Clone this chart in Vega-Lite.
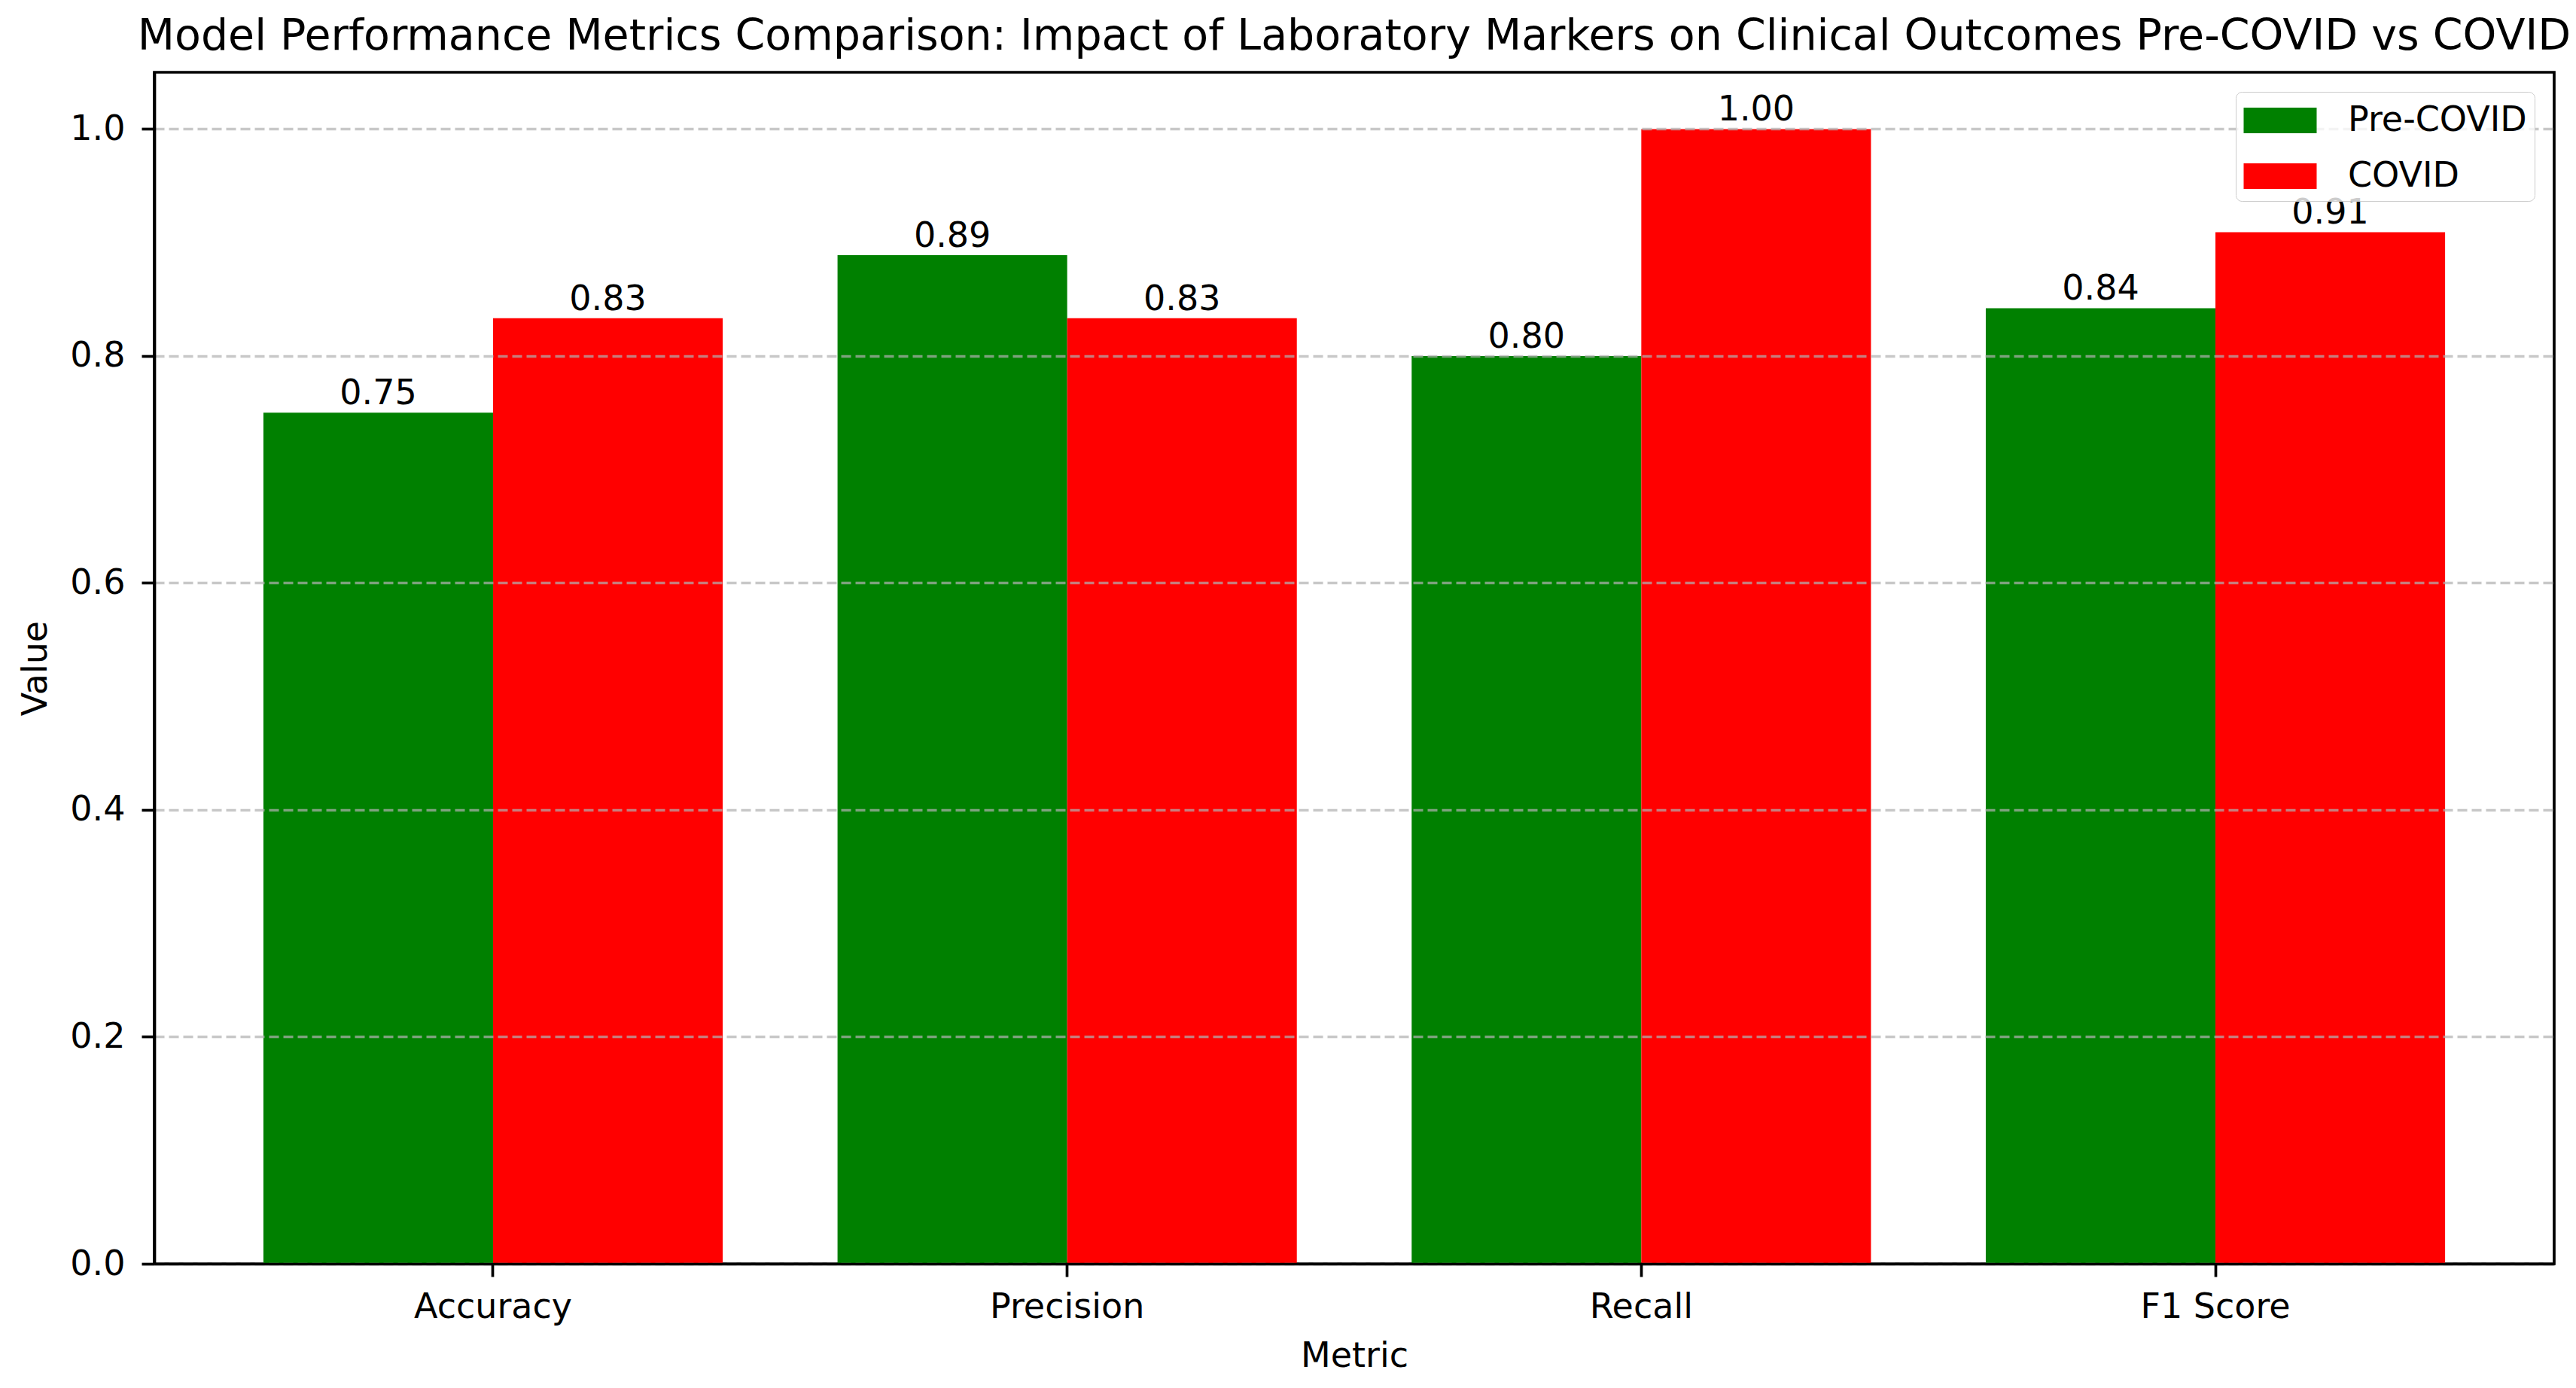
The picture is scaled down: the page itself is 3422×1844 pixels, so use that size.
{
  "$schema": "https://vega.github.io/schema/vega-lite/v6.json",
  "width": 3188,
  "height": 1583,
  "autosize": {"type": "none"},
  "padding": {"left": 205, "top": 96, "right": 29, "bottom": 165},
  "background": "white",
  "title": {
    "text": "Model Performance Metrics Comparison: Impact of Laboratory Markers on Clinical Outcomes Pre-COVID vs COVID",
    "fontSize": 57,
    "font": "DejaVu Sans",
    "fontWeight": "normal",
    "color": "black",
    "anchor": "middle",
    "baseline": "alphabetic",
    "offset": 31,
    "dy": 58
  },
  "config": {
    "view": {"stroke": "black", "strokeWidth": 3.7},
    "font": "DejaVu Sans"
  },
  "data": {
    "values": [
      {"Metric": "Accuracy", "Period": "Pre-COVID", "Value": 0.75},
      {"Metric": "Accuracy", "Period": "COVID", "Value": 0.8333},
      {"Metric": "Precision", "Period": "Pre-COVID", "Value": 0.8889},
      {"Metric": "Precision", "Period": "COVID", "Value": 0.8333},
      {"Metric": "Recall", "Period": "Pre-COVID", "Value": 0.8},
      {"Metric": "Recall", "Period": "COVID", "Value": 1.0},
      {"Metric": "F1 Score", "Period": "Pre-COVID", "Value": 0.8421},
      {"Metric": "F1 Score", "Period": "COVID", "Value": 0.9091}
    ]
  },
  "encoding": {
    "x": {
      "field": "Metric",
      "type": "nominal",
      "sort": ["Accuracy", "Precision", "Recall", "F1 Score"],
      "scale": {"paddingInner": 0.2, "paddingOuter": 0.19},
      "axis": {
        "title": "Metric",
        "titleFontSize": 46,
        "titleFontWeight": "normal",
        "titleColor": "black",
        "titlePadding": 20,
        "labelFontSize": 46,
        "labelColor": "black",
        "labelAngle": 0,
        "labelPadding": 18,
        "labelLimit": 1000,
        "tickSize": 17,
        "tickWidth": 3.7,
        "tickColor": "black",
        "domainColor": "black",
        "domainWidth": 3.7,
        "grid": false,
        "zindex": 2
      }
    },
    "xOffset": {
      "field": "Period",
      "type": "nominal",
      "sort": ["Pre-COVID", "COVID"],
      "scale": {"paddingInner": 0, "paddingOuter": 0}
    },
    "y": {
      "field": "Value",
      "type": "quantitative",
      "scale": {"domain": [0, 1.05], "nice": false, "zero": true},
      "axis": {
        "title": "Value",
        "titleFontSize": 46,
        "titleFontWeight": "normal",
        "titleColor": "black",
        "titlePadding": 21,
        "labelFontSize": 46,
        "labelColor": "black",
        "labelPadding": 22,
        "labelLimit": 1000,
        "tickSize": 17,
        "tickWidth": 3.7,
        "tickColor": "black",
        "domainColor": "black",
        "domainWidth": 3.7,
        "values": [0, 0.2, 0.4, 0.6, 0.8, 1.0],
        "format": ".1f",
        "grid": true,
        "gridColor": "#b0b0b0",
        "gridOpacity": 0.7,
        "gridWidth": 3.7,
        "gridDash": [13, 6],
        "zindex": 1
      }
    }
  },
  "layer": [
    {
      "mark": {"type": "bar"},
      "encoding": {
        "color": {
          "field": "Period",
          "type": "nominal",
          "sort": ["Pre-COVID", "COVID"],
          "scale": {"domain": ["Pre-COVID", "COVID"], "range": ["#008000", "#ff0000"]},
          "legend": {
            "title": null,
            "orient": "top-right",
            "offset": 26,
            "padding": 10,
            "labelFontSize": 46,
            "labelColor": "black",
            "labelFont": "DejaVu Sans",
            "labelLimit": 1000,
            "symbolType": "M-1.732,-0.607H1.732V0.607H-1.732Z",
            "symbolSize": 3136,
            "symbolStrokeWidth": 0,
            "symbolOpacity": 1,
            "symbolOffset": 21,
            "labelOffset": 62,
            "rowPadding": 23,
            "strokeColor": "#cccccc",
            "cornerRadius": 8,
            "fillColor": "rgba(255,255,255,0.8)",
            "zindex": 3
          }
        }
      }
    },
    {
      "mark": {"type": "text", "baseline": "alphabetic", "dy": -11, "fontSize": 46, "color": "black", "font": "DejaVu Sans"},
      "encoding": {
        "text": {"field": "Value", "type": "quantitative", "format": ".2f"}
      }
    }
  ]
}
